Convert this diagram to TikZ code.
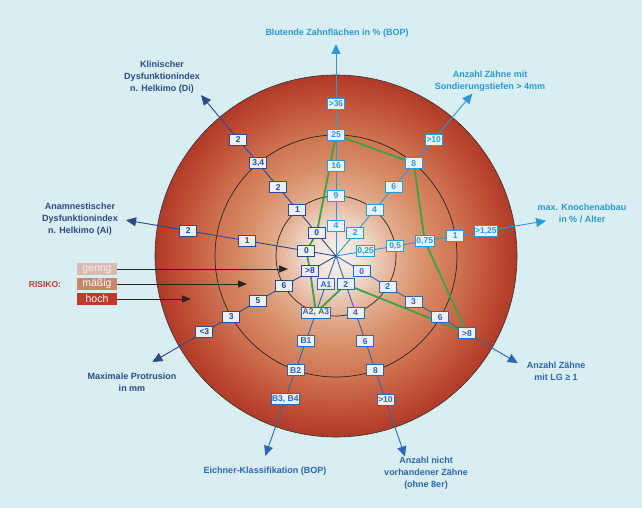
\documentclass[tikz,border=0pt]{standalone}
\usepackage{fontspec}
\setmainfont{Liberation Sans}
\usetikzlibrary{arrows.meta,calc}
\definecolor{pagebg}{HTML}{D8EEF2}
\definecolor{cyanb}{HTML}{2A9AD6}
\definecolor{midb}{HTML}{2F66B0}
\definecolor{navyb}{HTML}{2C4A8C}
\definecolor{fillc}{HTML}{E6F5FB}
\definecolor{fillm}{HTML}{EAF1F8}
\definecolor{filln}{HTML}{ECF0F6}
\definecolor{grn}{HTML}{3AA345}
\definecolor{riskred}{HTML}{C23A2E}
\definecolor{rgfill}{HTML}{D9BCB0}
\definecolor{rgtext}{HTML}{F4EDEA}
\definecolor{rmfill}{HTML}{C8866A}
\definecolor{rhfill}{HTML}{C0392B}
\definecolor{dk0}{HTML}{F8F4F2}
\definecolor{dk1}{HTML}{F0DDD2}
\definecolor{dk2}{HTML}{E3AE90}
\definecolor{dk3}{HTML}{D88E68}
\definecolor{dk4}{HTML}{CF7552}
\definecolor{dk5}{HTML}{C3553A}
\definecolor{dk6}{HTML}{B03A28}
\pgfdeclareradialshading{diskshade}{\pgfpointorigin}{color(0bp)=(dk0); color(4bp)=(dk1); color(8.3bp)=(dk2); color(12.5bp)=(dk3); color(16.6bp)=(dk4); color(20.8bp)=(dk5); color(25bp)=(dk6); color(50bp)=(dk6)}
\pgfdeclarelayer{back}
\pgfsetlayers{back,main}
\tikzset{
 bx/.style={draw, line width=0.9pt, font=\bfseries\fontsize{8.5}{9}\selectfont, minimum width=17pt, minimum height=11pt, inner xsep=1pt, inner ysep=0.5pt},
 bxc/.style={bx, draw=cyanb, fill=fillc, text=cyanb},
 bxm/.style={bx, draw=midb, fill=fillm, text=midb},
 bxn/.style={bx, draw=navyb, fill=filln, text=navyb},
 lbl/.style={font=\bfseries\fontsize{9}{12}\selectfont, align=center},
 spoke/.style={line width=0.9pt, -{Triangle[length=10pt,width=9pt]}},
 rbox/.style={minimum width=40pt, minimum height=12pt, inner sep=0pt, font=\fontsize{10.5}{12}\selectfont},
 riskarrow/.style={draw=black!85, line width=0.8pt, -{Triangle[length=9pt,width=7pt]}},
}
\begin{document}
\begin{tikzpicture}[x=1pt,y=-1pt]
\useasboundingbox (0,0) rectangle (642,508);
\coordinate (C) at (336,256);
\begin{pgfonlayer}{back}
\fill[pagebg] (0,0) rectangle (642,508);
\shade[shading=diskshade] (C) circle[radius=181];
\draw[black!80, line width=0.6pt] (C) circle[radius=181];
\draw[black!85, line width=0.7pt] (C) circle[radius=121] (C) circle[radius=60];
\end{pgfonlayer}

% spoke tips
\coordinate (tB) at ($(C)+(-90:212)$);
\coordinate (tS) at ($(C)+(-50:212)$);
\coordinate (tK) at ($(C)+(-9.5:213)$);
\coordinate (tL) at ($(C)+(30.5:211)$);
\coordinate (tT) at ($(C)+(71:212)$);
\coordinate (tE) at ($(C)+(109.5:212)$);
\coordinate (tP) at ($(C)+(150:212)$);
\coordinate (tA) at ($(C)+(189.7:213)$);
\coordinate (tD) at ($(C)+(230:210)$);

% BOP
\node[bxc] (b1) at ($(C)+(-90:30)$) {4};
\node[bxc] (b2) at ($(C)+(-90:60)$) {9};
\node[bxc] (b3) at ($(C)+(-90:90)$) {16};
\node[bxc] (b4) at ($(C)+(-90:121)$) {25};
\node[bxc] (b5) at ($(C)+(-90:152)$) {>36};
% Sondierung
\node[bxc] (s1) at ($(C)+(-50:30)$) {2};
\node[bxc] (s2) at ($(C)+(-50:60)$) {4};
\node[bxc] (s3) at ($(C)+(-50:90)$) {6};
\node[bxc] (s4) at ($(C)+(-50:121)$) {8};
\node[bxc] (s5) at ($(C)+(-50:152)$) {>10};
% Knochenabbau
\node[bxc] (k1) at ($(C)+(-9.5:30)$) {0,25};
\node[bxc] (k2) at ($(C)+(-9.5:60)$) {0,5};
\node[bxc] (k3) at ($(C)+(-9.5:90)$) {0,75};
\node[bxc] (k4) at ($(C)+(-9.5:121)$) {1};
\node[bxc] (k5) at ($(C)+(-9.5:152)$) {>1,25};
% LG
\node[bxm] (l1) at ($(C)+(30.5:30)$) {0};
\node[bxm] (l2) at ($(C)+(30.5:60)$) {2};
\node[bxm] (l3) at ($(C)+(30.5:90)$) {3};
\node[bxm] (l4) at ($(C)+(30.5:121)$) {6};
\node[bxm] (l5) at ($(C)+(30.5:152)$) {>8};
% Zaehne
\node[bxm] (t1) at ($(C)+(71:30)$) {2};
\node[bxm] (t2) at ($(C)+(71:60)$) {4};
\node[bxm] (t3) at ($(C)+(71:90)$) {6};
\node[bxm] (t4) at ($(C)+(71:121)$) {8};
\node[bxm] (t5) at ($(C)+(71:152)$) {>10};
% Eichner
\node[bxm] (e1) at ($(C)+(109.5:30)$) {A1};
\node[bxm] (e2) at ($(C)+(109.5:60)$) {A2, A3};
\node[bxm] (e3) at ($(C)+(109.5:90)$) {B1};
\node[bxm] (e4) at ($(C)+(109.5:121)$) {B2};
\node[bxm] (e5) at ($(C)+(109.5:152)$) {B3, B4};
% Protrusion
\node[bxn] (p1) at ($(C)+(150:30)$) {>8};
\node[bxn] (p2) at ($(C)+(150:60)$) {6};
\node[bxn] (p3) at ($(C)+(150:90)$) {5};
\node[bxn] (p4) at ($(C)+(150:121)$) {3};
\node[bxn] (p5) at ($(C)+(150:152)$) {<3};
% Ai
\node[bxn] (a1) at ($(C)+(189.7:30)$) {0};
\node[bxn] (a2) at ($(C)+(189.7:90)$) {1};
\node[bxn] (a3) at ($(C)+(189.7:150)$) {2};
% Di
\node[bxn] (d1) at ($(C)+(230:30)$) {0};
\node[bxn] (d2) at ($(C)+(230:60)$) {1};
\node[bxn] (d3) at ($(C)+(230:90)$) {2};
\node[bxn] (d4) at ($(C)+(230:121)$) {3,4};
\node[bxn] (d5) at ($(C)+(230:152)$) {2};

\begin{pgfonlayer}{back}
\draw[spoke, cyanb] (C) -- (tB);
\draw[spoke, cyanb] (C) -- (tS);
\draw[spoke, cyanb] (C) -- (tK);
\draw[spoke, midb] (C) -- (tL);
\draw[spoke, midb] (C) -- (tT);
\draw[spoke, midb] (C) -- (tE);
\draw[spoke, navyb] (C) -- (tP);
\draw[spoke, navyb] (C) -- (tA);
\draw[spoke, navyb] (C) -- (tD);
\draw[grn, line width=1.8pt, line join=round] (b4.center) -- (s4.center) -- (k3.center) -- (l5.center) -- (t1.center) -- (e2.center) -- (p1.center) -- (a1.center) -- (d1.center) -- cycle;
\end{pgfonlayer}

% labels
\node[lbl, text=cyanb] (LB) at (337,33) {Blutende Zahnflächen in \% (BOP)};
\node[lbl, text=cyanb] (LS) at (490,81) {Anzahl Zähne mit\\Sondierungstiefen > 4mm};
\node[lbl, text=cyanb] (LK) at (582,213.5) {max. Knochenabbau\\in \% / Alter};
\node[lbl, text=midb] (LL) at (556,371.5) {Anzahl Zähne\\mit LG ≥ 1};
\node[lbl, text=midb] (LT) at (426,473) {Anzahl nicht\\vorhandener Zähne\\(ohne 8er)};
\node[lbl, text=midb] (LE) at (265,471) {Eichner-Klassifikation (BOP)};
\node[lbl, text=navyb] (LP) at (132,382.5) {Maximale Protrusion\\in mm};
\node[lbl, text=navyb] (LA) at (80,219.5) {Anamnestischer\\Dysfunktionindex\\n. Helkimo (Ai)};
\node[lbl, text=navyb] (LD) at (162,77) {Klinischer\\Dysfunktionindex\\n. Helkimo (Di)};

% risk legend
\node[font=\bfseries\fontsize{8.5}{10}\selectfont, text=riskred] (RK) at (45,285) {RISIKO:};
\node[rbox, fill=rgfill, text=rgtext] (rg) at (97,269) {gering};
\node[rbox, fill=rmfill, text=white] (rm) at (97,284) {mäßig};
\node[rbox, fill=rhfill, text=white] (rh) at (97,299) {hoch};
\coordinate (eg) at (288,269);
\coordinate (em) at (247,284);
\coordinate (eh) at (191,299);
\draw[riskarrow] (rg.east) -- (eg);
\draw[riskarrow] (rm.east) -- (em);
\draw[riskarrow] (rh.east) -- (eh);
\end{tikzpicture}
\end{document}
